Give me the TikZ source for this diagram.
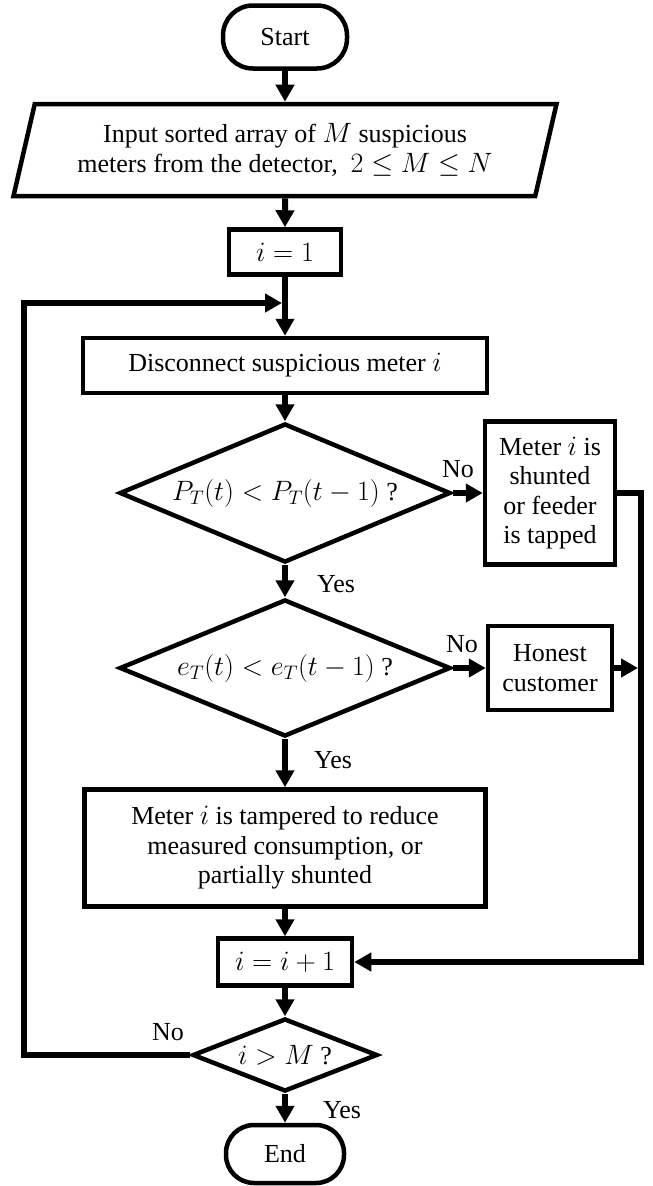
\RequirePackage{fix-cm}
\documentclass[tikz,border=0pt]{standalone}
\usepackage{fontspec}
\setmainfont{Liberation Serif}
\usetikzlibrary{shapes.geometric,arrows.meta,calc}
% math set slightly larger than the surrounding text
\newcommand{\mth}[1]{{\fontsize{28}{29.5}\selectfont$#1$}}
\begin{document}
\begin{tikzpicture}[x=1pt,y=-1pt,
  every node/.style={font=\fontsize{26}{29.5}\selectfont},
  box/.style={draw, rectangle, line width=4.5pt, align=center, inner sep=0pt},
  term/.style={draw, rectangle, line width=4.5pt, inner sep=0pt},
  para/.style={draw, trapezium, trapezium left angle=68, trapezium right angle=112,
    trapezium stretches body, line width=4.5pt, align=center, inner sep=0pt},
  dec/.style={draw, diamond, line width=4.5pt, inner sep=0pt, aspect=2.4},
  flow/.style={line width=6pt, line join=miter, -{Triangle[length=17pt,width=18pt]}},
  lbl/.style={inner sep=0pt}]
\useasboundingbox (0,0) rectangle (653,1186);

% main column
\node[term, minimum width=124, minimum height=63, rounded corners=30pt] (start) at (285,37) {Start};
\node[para, minimum width=543, minimum height=92] (input) at (285,150)
  {Input sorted array of \mth{M} suspicious\\meters from the detector,\ \ \mth{2 \le M \le N}};
\node[box, minimum width=112, minimum height=45] (i1) at (285,252) {\mth{i = 1}};
\coordinate (join) at (285,303);
\node[box, minimum width=404, minimum height=55] (disc) at (285,365.5) {Disconnect suspicious meter \mth{i}};
\node[dec, minimum width=331, minimum height=139] (d1) at (285,493) {\mth{P_T(t) < P_T(t-1)} ?};
\node[dec, minimum width=331, minimum height=137] (d2) at (285,668) {\mth{e_T(t) < e_T(t-1)} ?};
\node[box, minimum width=401, minimum height=117] (tamper) at (285,848)
  {Meter \mth{i} is tampered to reduce\\measured consumption, or\\partially shunted};
\node[box, minimum width=134, minimum height=47] (inc) at (285,962) {\mth{i = i + 1}};
\node[dec, minimum width=185, minimum height=73, aspect=2.5] (d3) at (285,1055) {\mth{i > M} ?};
\node[term, minimum width=118, minimum height=58, rounded corners=28pt] (end) at (285,1154) {End};

% side column
\node[box, minimum width=130, minimum height=143] (shunt) at (550,493)
  {Meter \mth{i} is\\shunted\\or feeder\\is tapped};
\node[box, minimum width=124, minimum height=84] (honest) at (550,668) {Honest\\customer};

% routing points
\coordinate (rail) at (641,668);
\coordinate (loop) at (24,1055);

% connectors
\draw[flow] (start) -- (input);
\draw[flow] (input) -- (i1);
\draw[flow] (i1) -- (disc);
\draw[flow, shorten >=3pt] (d3.west) -- (loop) |- (join);
\draw[flow] (disc) -- (d1);
\draw[flow] (d1) -- (shunt);
\draw[flow] (d1) -- (d2);
\draw[flow] (d2) -- (honest);
\draw[flow] (d2) -- (tamper);
\draw[flow] (shunt.east) -- (shunt.east -| rail) |- (inc.east);
\draw[flow, shorten >=3pt] (honest.east) -- (rail);
\draw[flow] (tamper) -- (inc);
\draw[flow] (inc) -- (d3);
\draw[flow] (d3) -- (end);

% branch labels
\node[lbl] (no1) at (458,469) {No};
\node[lbl] (yes1) at (336,584) {Yes};
\node[lbl] (no2) at (462,644) {No};
\node[lbl] (yes2) at (333,760) {Yes};
\node[lbl] (no3) at (168,1032) {No};
\node[lbl] (yes3) at (342,1110) {Yes};
\end{tikzpicture}
\end{document}
